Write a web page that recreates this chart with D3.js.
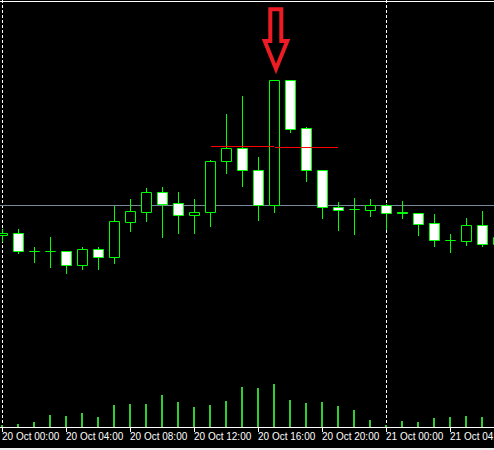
<!DOCTYPE html>
<html>
<head>
<meta charset="utf-8">
<script src="https://cdn.jsdelivr.net/npm/d3@7"></script>
<style>
html,body{margin:0;padding:0;background:#f0f0f0;}
svg{display:block;}
</style>
</head>
<body>
<script>
// ---- data ----
const times = [
 "2020-10-20 00:00","2020-10-20 01:00","2020-10-20 02:00","2020-10-20 03:00",
 "2020-10-20 04:00","2020-10-20 05:00","2020-10-20 06:00","2020-10-20 07:00",
 "2020-10-20 08:00","2020-10-20 09:00","2020-10-20 10:00","2020-10-20 11:00",
 "2020-10-20 12:00","2020-10-20 13:00","2020-10-20 14:00","2020-10-20 15:00",
 "2020-10-20 16:00","2020-10-20 17:00","2020-10-20 18:00","2020-10-20 19:00",
 "2020-10-20 20:00","2020-10-20 21:00","2020-10-20 22:00","2020-10-20 23:00",
 "2020-10-21 00:00","2020-10-21 01:00","2020-10-21 02:00","2020-10-21 03:00",
 "2020-10-21 04:00","2020-10-21 05:00","2020-10-21 06:00","2020-10-21 07:00"
];
const open  = [1.08224,1.08234,1.08144,1.08144,1.08144,1.08074,1.08154,1.08114,1.08289,1.08339,1.08439,1.08384,1.08324,1.08339,1.08594,1.08659,1.08549,1.08374,1.09000,1.08759,1.08549,1.08364,1.08354,1.08352,1.08374,1.08339,1.08334,1.08284,1.08200,1.08197,1.08274,1.08182];
const high  = [1.08254,1.08254,1.08164,1.08214,1.08144,1.08164,1.08164,1.08370,1.08404,1.08459,1.08464,1.08439,1.08405,1.08600,1.08830,1.08920,1.08615,1.09000,1.09000,1.08767,1.08549,1.08390,1.08410,1.08405,1.08380,1.08395,1.08334,1.08330,1.08230,1.08310,1.08345,1.08215];
const low   = [1.08194,1.08134,1.08092,1.08067,1.08034,1.08054,1.08057,1.08084,1.08247,1.08297,1.08217,1.08234,1.08234,1.08272,1.08537,1.08472,1.08302,1.08342,1.08742,1.08497,1.08312,1.08250,1.08230,1.08320,1.08254,1.08310,1.08225,1.08172,1.08140,1.08177,1.08172,1.08182];
const close = [1.08237,1.08144,1.08144,1.08144,1.08074,1.08154,1.08114,1.08294,1.08344,1.08439,1.08379,1.08324,1.08339,1.08594,1.08659,1.08549,1.08374,1.09000,1.08757,1.08549,1.08364,1.08352,1.08354,1.08374,1.08337,1.08334,1.08282,1.08202,1.08200,1.08274,1.08182,1.08215];
const volume = [85,135,235,585,535,685,485,1085,1135,1135,1585,1235,985,1085,1285,1985,1935,2135,1335,1185,1235,1035,835,335,85,285,235,435,485,535,485,400];
const tickLabels = ["2020-10-20 00:00","2020-10-20 04:00","2020-10-20 08:00","2020-10-20 12:00","2020-10-20 16:00","2020-10-20 20:00","2020-10-21 00:00","2020-10-21 04:00"];
const separators = ["2020-10-20 00:00","2020-10-21 00:00"];
const bidPrice = 1.08374;
const trendTimes = ["2020-10-20 13:00","2020-10-20 21:00"];
const trendPrices = [1.086725,1.086625];
const arrowTime = "2020-10-20 17:00";
const arrowPrice = 1.09000;

// ---- setup ----
const W = 494, H = 450;
const parse = d3.utcParse("%Y-%m-%d %H:%M");
const T = times.map(parse);
const svg = d3.select("body").append("svg").attr("width", W).attr("height", H);
svg.append("rect").attr("x",0).attr("y",0).attr("width",W).attr("height",448).attr("fill","#000");

const x = d3.scaleUtc().domain([T[0], T[1]]).range([2, 18]);
const y = d3.scaleLinear().domain([1.08, 1.09]).range([280, 80]);
const v = d3.scaleLinear().domain([0, 2500]).range([427, 377]);
const col = t => Math.round(x(t));
const row = p => Math.round(y(p));

// top border
svg.append("rect").attr("x",0).attr("y",1).attr("width",W).attr("height",1).attr("fill","#fff");

// period separators
svg.selectAll("line.sep").data(separators.map(parse)).enter().append("line")
  .attr("class","sep")
  .attr("x1", d => col(d)+0.5).attr("x2", d => col(d)+0.5)
  .attr("y1", 0).attr("y2", 427)
  .attr("stroke","#fff").attr("stroke-width",1).attr("stroke-dasharray","3,2");

// bid line
svg.append("line").attr("x1",0).attr("x2",W)
  .attr("y1", row(bidPrice)+0.5).attr("y2", row(bidPrice)+0.5)
  .attr("stroke","#778899").attr("stroke-width",1);

// candles
const data = T.map((t,i)=>({t, o:open[i], h:high[i], l:low[i], c:close[i], vol:volume[i]}));
const g = svg.append("g");
g.selectAll("line.wick").data(data).enter().append("line")
  .attr("x1", d => col(d.t)+0.5).attr("x2", d => col(d.t)+0.5)
  .attr("y1", d => row(d.h)).attr("y2", d => row(d.l)+1)
  .attr("stroke","#00ff00").attr("stroke-width",1);
g.selectAll("path.body").data(data).enter().append("path")
  .attr("d", d => {
    const cx = col(d.t);
    const top = row(Math.max(d.o,d.c)) + 0.5, bot = row(Math.min(d.o,d.c)) + 0.5;
    return `M${cx-4.5},${top}H${cx+5.5}V${bot}H${cx-4.5}Z`;
  })
  .attr("fill", d => d.c > d.o ? "#000" : "#fff")
  .attr("stroke","#00ff00").attr("stroke-width",1);

// volumes
g.selectAll("rect.vol").data(data).enter().append("rect")
  .attr("x", d => col(d.t)-1).attr("width",2)
  .attr("y", d => Math.round(v(d.vol))).attr("height", d => 427 - Math.round(v(d.vol)))
  .attr("fill","#32cd32");

// trend line
const tt = trendTimes.map(parse);
svg.append("line")
  .attr("x1", x(tt[0])).attr("x2", x(tt[1]))
  .attr("y1", y(trendPrices[0])+0.5).attr("y2", y(trendPrices[1])+0.5)
  .attr("stroke","#ff0000").attr("stroke-width",1).attr("shape-rendering","crispEdges");

// arrow annotation
const ax = x(parse(arrowTime)) + 2, ay = y(arrowPrice) - 6;
const arrowPts = [[-5.7,-64.7],[5.3,-64.7],[5.3,-33],[11.3,-33],[0,-5],[-11.3,-33],[-5.7,-33]];
svg.append("path")
  .attr("d", "M" + arrowPts.map(p => (ax+p[0])+","+(ay+p[1])).join("L") + "Z")
  .attr("fill","none").attr("stroke","#ed1c24").attr("stroke-width",4).attr("stroke-linejoin","miter");

// axis
svg.append("rect").attr("x",0).attr("y",427).attr("width",W).attr("height",1).attr("fill","#fff");
const axis = d3.axisBottom(x).tickValues(tickLabels.map(parse))
  .tickFormat(d3.utcFormat("%d %b %H:%M")).tickSize(4).tickSizeOuter(0);
const ag = svg.append("g").attr("transform","translate(0.5,428)").call(axis);
ag.select(".domain").remove();
ag.selectAll(".tick line").attr("stroke","#fff").attr("y1",0).attr("y2",4);
ag.selectAll(".tick").attr("transform", d => `translate(${col(d)},0)`);
ag.selectAll(".tick text")
  .attr("fill","#fff").attr("text-anchor","start").attr("x",-0.5).attr("y",12).attr("dy",0)
  .style("font-family","'Liberation Sans', Arial, sans-serif").style("font-size","10px");
</script>
</body>
</html>
